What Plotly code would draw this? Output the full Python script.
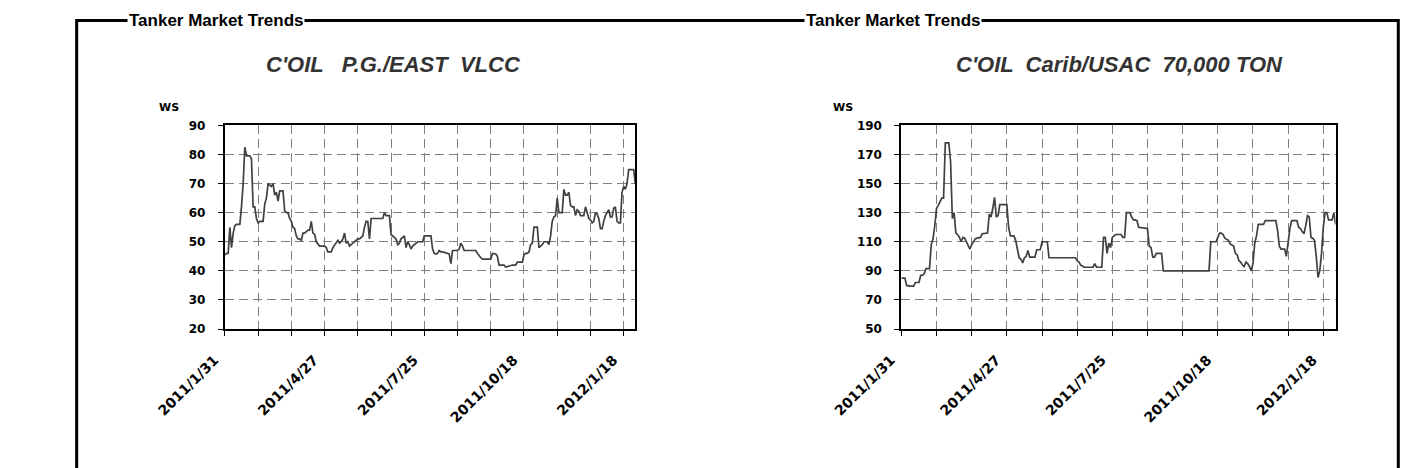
import plotly.graph_objects as go

W, H = 1404, 468

# category ticks every 20 business days, labels every 60
tick_pos = list(range(0, 241, 20))
tick_text = ["2011/1/31", "", "", "2011/4/27", "", "", "2011/7/25", "", "",
             "2011/10/18", "", "", "2012/1/18"]

frame_title = "Tanker Market Trends"
title_left = "C'OIL   P.G./EAST  VLCC"
title_right = "C'OIL  Carib/USAC  70,000 TON"

pg_east_vlcc = [
    45.5, 46, 46, 55, 48, 53, 55.5, 56, 56, 56,
    62, 70, 82.5, 79.5, 79.5, 79.5, 78.5, 62, 62, 58,
    56.5, 57, 57, 57, 63, 65, 70, 69.5, 69, 70,
    66, 67, 64, 67.5, 67.5, 67.5, 60.5, 60, 60, 58,
    57, 55, 54.5, 52, 51, 51, 50.5, 53, 53, 53.5,
    54, 54, 57, 53, 52.5, 50, 49, 48.5, 48.5, 48.5,
    48.5, 48, 46.5, 46.5, 46.5, 48, 49, 50, 50.5, 49.5,
    50, 51, 53, 49.5, 50, 48.5, 49, 49.5, 50, 50.5,
    51, 51, 51.5, 52, 55, 57, 57, 51, 58, 58,
    58, 58, 58, 58, 58, 58, 60, 59, 59, 59,
    52.5, 52, 51.5, 51, 49, 49.5, 51, 51.5, 52, 48,
    50, 49, 47.5, 48.5, 49, 49.5, 50, 50, 50, 50,
    52, 52, 52, 52, 52, 47.5, 46, 45.8, 46, 47,
    46.5, 46.5, 46.3, 46, 45.8, 45.8, 42.5, 47, 47, 47,
    47, 47.5, 49.5, 48.5, 47, 47, 47, 47, 47, 47,
    47, 47, 46, 45, 44.5, 44, 44, 44, 44, 44,
    44, 46, 46, 45.8, 45, 42, 42, 42, 42, 41.3,
    41.5, 41.8, 42, 42, 42, 42, 43, 43, 43, 43,
    45.5, 46, 46, 46.5, 49, 49.5, 55, 55, 55, 48,
    48.5, 49, 50, 50, 50, 49, 52, 57, 58.5, 59,
    65, 60, 60, 60, 68, 66, 66, 67, 62.5, 62,
    62, 59, 61, 60.5, 59, 59, 59, 62, 60, 58,
    57.5, 56.5, 57, 60, 59.5, 58, 54.5, 54.5, 57, 59,
    60, 61, 58.5, 58.5, 61.5, 62, 57, 56.5, 56.5, 67,
    69, 68, 70, 74.8, 74.8, 74.8, 74.8, 70,
]

carib_usac = [
    85, 85, 85, 80, 79.5, 79.5, 79.5, 79.5, 82, 82,
    82, 87, 87, 88, 91.5, 91.5, 91.5, 108, 112, 121,
    133, 135, 138, 140, 140, 178, 178, 178, 165, 126,
    130, 116, 115, 113, 110, 113, 112.5, 110, 108, 105,
    108, 110, 112, 112.5, 112.5, 113, 115.5, 115.5, 115.5, 116,
    129, 127, 133, 140.5, 127, 128, 135.5, 135.5, 135.5, 135.5,
    135.5, 120, 114, 114, 114, 111, 104, 99, 98, 95.5,
    99, 100, 104, 99.5, 99.5, 99.5, 99.5, 104.5, 104.5, 104.5,
    110, 110, 110, 110, 99, 99, 99, 99, 99, 99,
    99, 99, 99, 99, 99, 99, 99, 99, 99, 99,
    97, 96, 94, 93, 92.5, 92.5, 92.5, 92.5, 92.5, 92.5,
    95, 92.5, 92.5, 92.5, 92.5, 113, 113, 102, 109, 106,
    113, 114, 115, 115, 115, 115, 113, 113, 130, 130,
    130, 127, 125, 125, 124.5, 120, 119.5, 119.5, 119.5, 119.5,
    119, 107, 106, 99.5, 99.5, 102, 102, 102, 102, 90,
    90, 90, 90, 90, 90, 90, 90, 90, 90, 90,
    90, 90, 90, 90, 90, 90, 90, 90, 90, 90,
    90, 90, 90, 90, 90, 90, 110, 110, 110, 110,
    113, 116, 116, 115, 112.5, 112, 111, 108.5, 107.5, 107,
    102, 101, 97, 96, 94, 93, 96, 95, 93, 90,
    95, 109, 114, 122, 122, 122, 122, 124.5, 124.5, 124.5,
    124.5, 124.5, 124.5, 124.5, 118, 107, 105, 105, 105, 100,
    112, 119, 124.5, 124.5, 124.5, 124.5, 120, 119, 117, 115.5,
    121, 128, 127, 113, 112.5, 111, 100, 85.5, 90, 102,
    120, 130, 130, 125, 125, 125, 130, 122,
]

y_left_ticks = [20, 30, 40, 50, 60, 70, 80, 90]
y_right_ticks = [50, 70, 90, 110, 130, 150, 170, 190]


def px_x(p):
    return p / W


def px_y(p):
    return 1 - p / H


# pad the rotated date labels so they end a little before the tick
pad = "\u00a0" * 3
tick_text_padded = [t + pad if t else t for t in tick_text]

fig = go.Figure()
fig.add_trace(go.Scatter(x=list(range(len(pg_east_vlcc))), y=pg_east_vlcc,
                         mode="lines", line=dict(color="#404040", width=1.7),
                         xaxis="x", yaxis="y", showlegend=False))
fig.add_trace(go.Scatter(x=list(range(len(carib_usac))), y=carib_usac,
                         mode="lines", line=dict(color="#404040", width=1.7),
                         xaxis="x2", yaxis="y2", showlegend=False))

xfont = dict(family="DejaVu Sans", size=14, color="black", weight="bold")
yfont = dict(family="DejaVu Sans", size=12, color="black", weight="bold")
xcommon = dict(tickmode="array", tickvals=tick_pos, ticktext=tick_text_padded,
               tickangle=-45, tickfont=xfont, showgrid=True,
               gridcolor="#7f7f7f", griddash="9px,5px", gridwidth=1,
               showline=True, mirror=True, linecolor="black", linewidth=2,
               ticks="outside", ticklen=5, tickcolor="black", zeroline=False,
               ticklabelstandoff=0)
ycommon = dict(tickfont=yfont, showgrid=True, gridcolor="#7f7f7f",
               griddash="9px,5px", gridwidth=1, showline=True, mirror=True,
               linecolor="black", linewidth=2, ticks="outside", ticklen=5,
               tickcolor="black", zeroline=False, ticklabelstandoff=10)

fig.update_layout(
    width=W, height=H, margin=dict(l=0, r=0, t=0, b=0),
    paper_bgcolor="white", plot_bgcolor="white",
    xaxis=dict(domain=[px_x(163), px_x(595)], range=[0, len(pg_east_vlcc) - 1],
               anchor="y", **xcommon),
    yaxis=dict(domain=[px_y(332), px_y(122)], range=[20, 90],
               tickvals=y_left_ticks, anchor="x", **ycommon),
    xaxis2=dict(domain=[px_x(875), px_x(1332)], range=[0, len(carib_usac) - 1],
                anchor="y2", **xcommon),
    yaxis2=dict(domain=[px_y(332), px_y(122)], range=[50, 190],
                tickvals=y_right_ticks, anchor="x2", **ycommon),
)

# outer frame
fig.add_shape(type="rect", xref="paper", yref="paper",
              x0=px_x(7), x1=px_x(1398), y0=px_y(520), y1=px_y(14),
              line=dict(color="black", width=3))

frame_font = dict(family="Liberation Sans", size=17, color="black", weight="bold")
for x0 in (60, 772):
    fig.add_annotation(text=frame_title, xref="paper", yref="paper",
                       x=px_x(x0), y=px_y(14), xanchor="left", yanchor="middle",
                       showarrow=False, bgcolor="white", borderpad=1,
                       font=frame_font)

ttl_font = dict(family="Liberation Sans", size=22, color="#333333",
                weight="bold", style="italic")
fig.add_annotation(text=title_left, xref="paper", yref="paper", x=px_x(340),
                   y=px_y(59), xanchor="center", yanchor="middle",
                   showarrow=False, font=ttl_font)
fig.add_annotation(text=title_right, xref="paper", yref="paper", x=px_x(1105),
                   y=px_y(59), xanchor="center", yanchor="middle",
                   showarrow=False, font=ttl_font)

ws_font = dict(family="DejaVu Sans", size=11, color="black", weight="bold")
fig.add_annotation(text="WS", xref="paper", yref="paper", x=px_x(104),
                   y=px_y(104), xanchor="center", yanchor="middle",
                   showarrow=False, font=ws_font)
fig.add_annotation(text="WS", xref="paper", yref="paper", x=px_x(814),
                   y=px_y(104), xanchor="center", yanchor="middle",
                   showarrow=False, font=ws_font)

fig.write_html("out.html", config={"displayModeBar": False},
               post_script="document.body.style.margin='0';"
                           "document.body.style.overflow='hidden';")
